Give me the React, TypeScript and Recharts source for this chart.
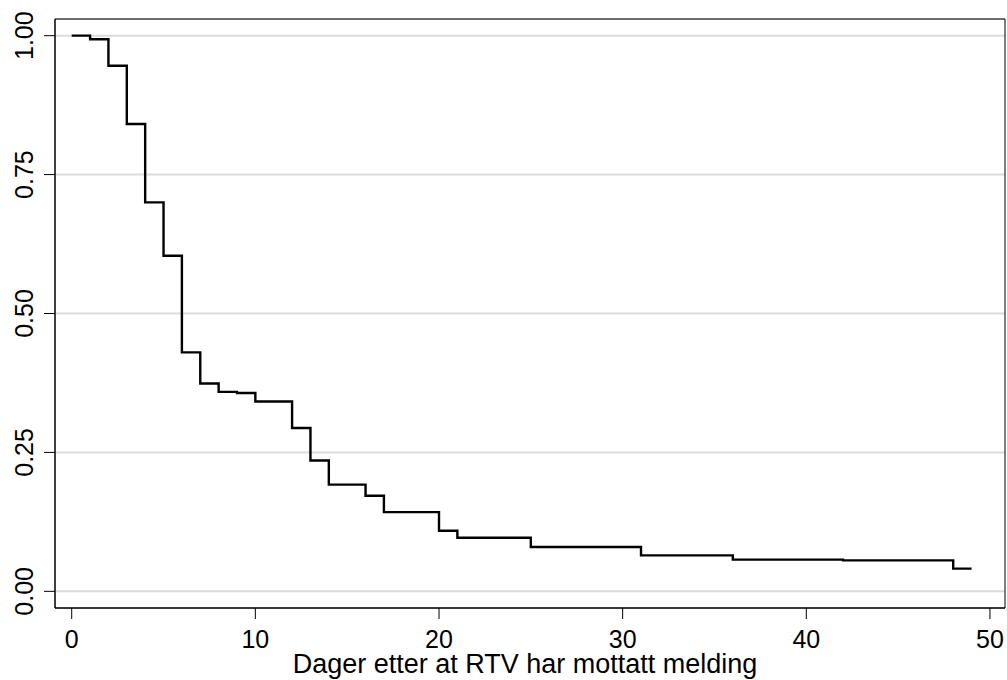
import { LineChart, Line, XAxis, YAxis, CartesianGrid, ReferenceArea } from 'recharts';

// Kaplan-Meier style step curve: days since RTV received the report
const days = [0, 1, 2, 3, 4, 5, 6, 7, 8, 9, 10, 12, 13, 14, 16, 17, 20, 21, 25, 31, 36, 42, 48, 49];
const survival = [
  1, 0.9935, 0.946, 0.841, 0.7, 0.604, 0.43, 0.374, 0.359, 0.357, 0.3415, 0.294, 0.2355, 0.192, 0.172,
  0.1426, 0.109, 0.0965, 0.0797, 0.0647, 0.057, 0.0557, 0.0408, 0.0408,
];
const xTicks = [0, 10, 20, 30, 40, 50];
const yTicks = [0, 0.25, 0.5, 0.75, 1];

const X_DOMAIN: [number, number] = [-0.91, 50.82];
const Y_DOMAIN: [number, number] = [-0.03, 1.03];

const data = days.map((t, i) => ({ t, s: survival[i] }));

const FONT = '"Liberation Sans", Arial, Helvetica, sans-serif';

const YTick = (props: any) => {
  const { x, y, payload } = props;
  return (
    <text
      x={x}
      y={y}
      transform={`rotate(-90, ${x}, ${y})`}
      textAnchor="middle"
      fontSize={25}
      fontFamily={FONT}
      fill="#000"
    >
      {payload.value.toFixed(2)}
    </text>
  );
};

const XTitle = (props: any) => {
  const { viewBox } = props;
  const cx = viewBox.x + viewBox.width / 2 - 5;
  return (
    <text x={cx} y={673} textAnchor="middle" fontSize={27} fontFamily={FONT} fill="#000">
      Dager etter at RTV har mottatt melding
    </text>
  );
};

export default function App() {
  return (
    <div style={{ position: 'absolute', left: 0, top: 0, width: 1007, height: 680, background: '#fff' }}>
      <LineChart width={1007} height={680} data={data} margin={{ top: 19, right: 2, bottom: 0, left: 0 }}>
        <CartesianGrid vertical={false} stroke="#dcdcdc" strokeWidth={2} />
        <XAxis
          type="number"
          dataKey="t"
          domain={X_DOMAIN}
          ticks={xTicks}
          allowDataOverflow
          height={72}
          tickSize={11}
          tickMargin={11}
          axisLine={{ stroke: '#000', strokeWidth: 1 }}
          tickLine={{ stroke: '#000', strokeWidth: 1 }}
          tick={{ fontSize: 25, fill: '#000', fontFamily: FONT }}
          label={<XTitle />}
        />
        <YAxis
          type="number"
          domain={Y_DOMAIN}
          ticks={yTicks}
          allowDataOverflow
          width={55}
          tickSize={11}
          tickMargin={11}
          axisLine={{ stroke: '#000', strokeWidth: 1 }}
          tickLine={{ stroke: '#000', strokeWidth: 1 }}
          tick={<YTick />}
        />
        <ReferenceArea
          x1={X_DOMAIN[0]}
          x2={X_DOMAIN[1]}
          y1={Y_DOMAIN[0]}
          y2={Y_DOMAIN[1]}
          fill="none"
          fillOpacity={0}
          stroke="#000"
          strokeWidth={1}
        />
        <Line
          type="stepAfter"
          dataKey="s"
          stroke="#000"
          strokeWidth={2.4}
          strokeLinejoin="miter"
          dot={false}
          activeDot={false}
          isAnimationActive={false}
        />
      </LineChart>
    </div>
  );
}
